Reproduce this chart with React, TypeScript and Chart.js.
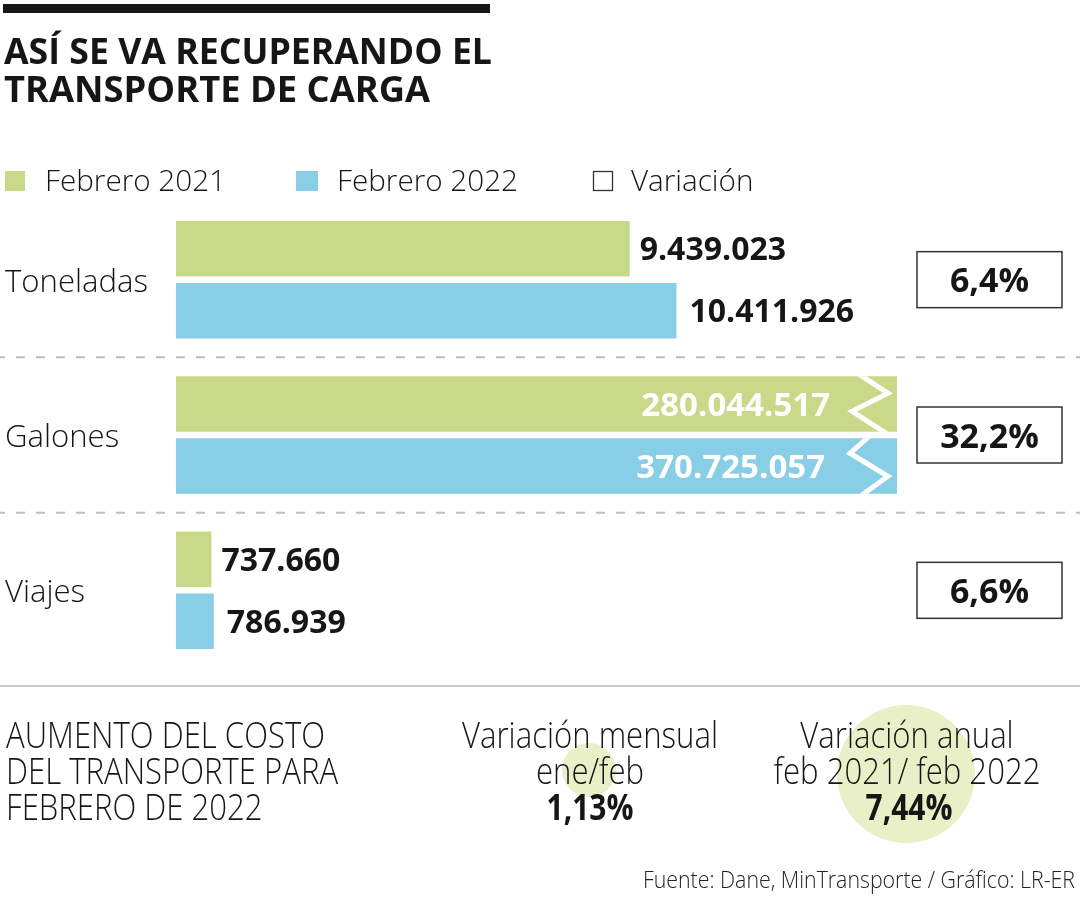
import React, { useEffect, useRef } from 'react';
import { Chart, registerables } from 'chart.js';

Chart.register(...registerables);

// ---------- data ----------
const categories = ['Toneladas', 'Galones', 'Viajes'];
const seriesNames = ['Febrero 2021', 'Febrero 2022'];
const feb2021 = [9439023, 280044517, 737660];
const feb2022 = [10411926, 370725057, 786939];
const variacion = ['6,4%', '32,2%', '6,6%'];
const variacionLegend = 'Variación';
const axisMax = 15000000; // larger values are drawn as broken bars
const titleLines = ['ASÍ SE VA RECUPERANDO EL', 'TRANSPORTE DE CARGA'];
const costTitle = ['AUMENTO DEL COSTO', 'DEL TRANSPORTE PARA', 'FEBRERO DE 2022'];
const costMensual = ['Variación mensual', 'ene/feb'];
const costMensualValue = '1,13%';
const costAnual = ['Variación anual', 'feb 2021/ feb 2022'];
const costAnualValue = '7,44%';
const sourceText = 'Fuente: Dane, MinTransporte / Gráfico: LR-ER';

// ---------- styles ----------
const GREEN = '#c8da8a';
const BLUE = '#87cee6';
const CIRCLE = '#e9efc6';
const INK = '#161616';
const FAM = '"Open Sans", "Noto Sans", sans-serif';
const LIGHT = (px: number) => `300 ${px}px ${FAM}`;
const BOLD = (px: number) => `700 ${px}px ${FAM}`;

const fmt = (n: number) => String(n).replace(/\B(?=(\d{3})+(?!\d))/g, '.');

function measure(ctx: CanvasRenderingContext2D, s: string, font: string) {
  ctx.save();
  ctx.font = font;
  const w = ctx.measureText(s).width;
  ctx.restore();
  return w;
}

function txt(
  ctx: CanvasRenderingContext2D,
  s: string,
  x: number,
  y: number,
  font: string,
  color: string,
  align: 'left' | 'right' | 'center' = 'left',
  sx = 1
) {
  ctx.save();
  ctx.font = font;
  ctx.fillStyle = color;
  ctx.textBaseline = 'alphabetic';
  ctx.textAlign = 'left';
  const w = ctx.measureText(s).width * sx;
  const x0 = align === 'left' ? x : align === 'right' ? x - w : x - w / 2;
  ctx.translate(x0, y);
  ctx.scale(sx, 1);
  ctx.fillText(s, 0, 0);
  ctx.restore();
}

// zigzag "break" marks, offsets relative to (bar right, bar top)
const breakMarks = [
  [[-35, 0], [-9, 17], [-45, 35], [-14, 55]],
  [[-30, 0], [-47, 15], [-9, 38], [-34, 56]],
];

const overlay = {
  id: 'overlay',
  afterDraw(chart: any) {
    const ctx: CanvasRenderingContext2D = chart.ctx;
    const ca = chart.chartArea;
    const ys = chart.scales.y;

    // top rule
    ctx.fillStyle = INK;
    ctx.fillRect(3, 4, 487, 9);

    // title
    const tf = BOLD(35);
    txt(ctx, titleLines[0], 4, 64, tf, INK, 'left', 488 / measure(ctx, titleLines[0], tf));
    txt(ctx, titleLines[1], 4, 102, tf, INK, 'left', 426 / measure(ctx, titleLines[1], tf));

    // legend
    const lf = LIGHT(30);
    const lk = 181 / measure(ctx, seriesNames[0], lf);
    ctx.fillStyle = GREEN;
    ctx.fillRect(5, 171, 20, 20);
    txt(ctx, seriesNames[0], 45, 191, lf, INK, 'left', lk);
    ctx.fillStyle = BLUE;
    ctx.fillRect(296, 171, 22, 20);
    txt(ctx, seriesNames[1], 337, 191, lf, INK, 'left', lk);
    ctx.strokeStyle = '#333';
    ctx.lineWidth = 1.3;
    ctx.strokeRect(593.5, 171.5, 19, 19);
    txt(ctx, variacionLegend, 631, 191, lf, INK, 'left', lk);

    // category labels, separators, variation boxes
    const cf = LIGHT(31);
    const ck = 143 / measure(ctx, categories[0], cf);
    categories.forEach((c, i) => {
      const cy = ys.getPixelForValue(i);
      txt(ctx, c, 5, cy + 12, cf, INK, 'left', ck);
      // box
      ctx.strokeStyle = '#333';
      ctx.lineWidth = 1.5;
      ctx.strokeRect(917, cy - 28, 145, 56);
      txt(ctx, variacion[i], 989.5, cy + 12.5, BOLD(34), INK, 'center');
      if (i < categories.length - 1) {
        const sy = (cy + ys.getPixelForValue(i + 1)) / 2;
        ctx.save();
        ctx.strokeStyle = '#bdbdbd';
        ctx.lineWidth = 2;
        ctx.setLineDash([9, 11]);
        ctx.beginPath();
        ctx.moveTo(-4, sy);
        ctx.lineTo(1080, sy);
        ctx.stroke();
        ctx.restore();
      }
    });

    // bar labels and break marks
    chart.data.datasets.forEach((ds: any, di: number) => {
      const meta = chart.getDatasetMeta(di);
      meta.data.forEach((bar: any, i: number) => {
        const v = ds.data[i];
        const h = bar.height;
        const top = bar.y - h / 2;
        if (v > axisMax) {
          const right = ca.right;
          ctx.save();
          ctx.beginPath();
          ctx.rect(ca.left, top, right - ca.left, h);
          ctx.clip();
          const pts = breakMarks[di];
          const p0 = pts[0], p1 = pts[1], p2 = pts[2], p3 = pts[3];
          const ext = 0.4;
          ctx.strokeStyle = '#ffffff';
          ctx.lineWidth = 5;
          ctx.lineJoin = 'miter';
          ctx.beginPath();
          ctx.moveTo(right + p0[0] - (p1[0] - p0[0]) * ext, top + p0[1] - (p1[1] - p0[1]) * ext);
          ctx.lineTo(right + p1[0], top + p1[1]);
          ctx.lineTo(right + p2[0], top + p2[1]);
          ctx.lineTo(right + p3[0] + (p3[0] - p2[0]) * ext, top + p3[1] + (p3[1] - p2[1]) * ext);
          ctx.stroke();
          ctx.restore();
          txt(ctx, fmt(v), right - 67 - di * 5, bar.y + 12, BOLD(33), '#ffffff', 'right');
        } else {
          txt(ctx, fmt(v), bar.x + 10 + di * 3, bar.y + 11.5, BOLD(32), INK, 'left');
        }
      });
    });

    // bottom rule
    ctx.fillStyle = '#c8c8c8';
    ctx.fillRect(0, 685, 1080, 2);

    // circles
    ctx.fillStyle = CIRCLE;
    ctx.beginPath();
    ctx.arc(589, 770, 27, 0, Math.PI * 2);
    ctx.fill();
    ctx.beginPath();
    ctx.arc(906, 774, 69, 0, Math.PI * 2);
    ctx.fill();

    // cost section
    const bf = LIGHT(36);
    const bk = 319 / measure(ctx, costTitle[0], bf);
    const bases = [748, 784, 820];
    costTitle.forEach((s, i) => txt(ctx, s, 6, bases[i], bf, INK, 'left', bk));
    costMensual.forEach((s, i) => txt(ctx, s, 590, bases[i], bf, INK, 'center', bk));
    costAnual.forEach((s, i) => txt(ctx, s, 907, bases[i], bf, INK, 'center', bk));
    const vf = BOLD(35);
    const vk = 87 / measure(ctx, costMensualValue, vf);
    txt(ctx, costMensualValue, 590, 820, vf, INK, 'center', vk);
    txt(ctx, costAnualValue, 909, 820, vf, INK, 'center', vk);

    // source
    const sf = LIGHT(23);
    txt(ctx, sourceText, 1075, 888, sf, '#222', 'right', 432 / measure(ctx, sourceText, sf));
  },
};

export default function App() {
  const ref = useRef<HTMLCanvasElement>(null);

  useEffect(() => {
    const canvas = ref.current;
    if (!canvas) return;
    const chart = new Chart(canvas, {
      type: 'bar',
      data: {
        labels: categories,
        datasets: [
          { label: seriesNames[0], data: feb2021, backgroundColor: GREEN, borderWidth: 0, clip: 0 } as any,
          { label: seriesNames[1], data: feb2022, backgroundColor: BLUE, borderWidth: 0, clip: 0 } as any,
        ],
      },
      options: {
        indexAxis: 'y',
        responsive: false,
        animation: false,
        devicePixelRatio: 1,
        layout: { padding: { left: 176, right: 183, top: 202, bottom: 232 } },
        scales: {
          x: { display: false, min: 0, max: axisMax },
          y: { display: false },
        },
        datasets: { bar: { categoryPercentage: 0.7983, barPercentage: 0.895 } },
        plugins: {
          legend: { display: false },
          title: { display: false },
          tooltip: { enabled: false },
        },
      } as any,
      plugins: [overlay],
    });
    let alive = true;
    if ((document as any).fonts && (document as any).fonts.ready) {
      (document as any).fonts.ready.then(() => {
        if (alive) chart.draw();
      });
    }
    return () => {
      alive = false;
      chart.destroy();
    };
  }, []);

  return (
    <div style={{ position: 'absolute', left: 0, top: 0, width: 1080, height: 900, background: '#fff' }}>
      <canvas ref={ref} width={1080} height={900} style={{ display: 'block', width: 1080, height: 900 }} />
    </div>
  );
}
